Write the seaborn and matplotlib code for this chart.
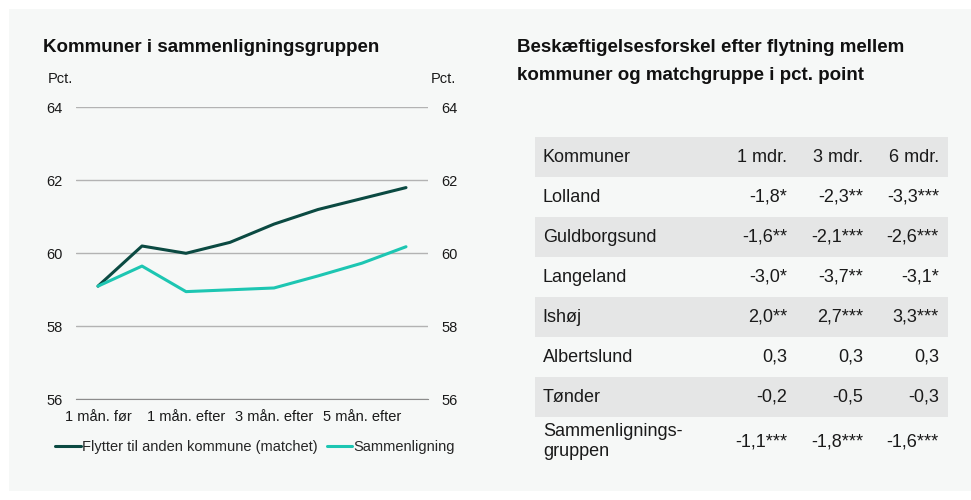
import pandas as pd
import matplotlib.pyplot as plt
import seaborn as sns
from matplotlib.patches import Rectangle

# data
perioder = ['1 mån. før', 'Flytning', '1 mån. efter', '2 mån. efter',
            '3 mån. efter', '4 mån. efter', '5 mån. efter', '6 mån. efter']
vis_labels = ['1 mån. før', '', '1 mån. efter', '', '3 mån. efter', '', '5 mån. efter', '']
flytter = [59.1, 60.2, 60.0, 60.3, 60.8, 61.2, 61.5, 61.8]
sammenligning = [59.1, 59.65, 58.95, 59.0, 59.05, 59.38, 59.73, 60.18]
serie_navne = ['Flytter til anden kommune (matchet)', 'Sammenligning']

tab_kolonner = ['Kommuner', '1 mdr.', '3 mdr.', '6 mdr.']
kommuner = ['Lolland', 'Guldborgsund', 'Langeland', 'Ishøj', 'Albertslund',
            'Tønder', 'Sammenlignings-\ngruppen']
mdr1 = ['-1,8*', '-1,6**', '-3,0*', '2,0**', '0,3', '-0,2', '-1,1***']
mdr3 = ['-2,3**', '-2,1***', '-3,7**', '2,7***', '0,3', '-0,5', '-1,8***']
mdr6 = ['-3,3***', '-2,6***', '-3,1*', '3,3***', '0,3', '-0,3', '-1,6***']

sns.set_style('white')
plt.rcParams['font.family'] = ['Liberation Sans', 'DejaVu Sans']

W, H = 971, 500
fig = plt.figure(figsize=(9.71, 5), dpi=100)
fig.patch.set_facecolor('white')
fig.patches.append(Rectangle((9 / W, 1 - 491 / H), 1, 482 / H, transform=fig.transFigure,
                             facecolor='#f6f8f7', edgecolor='none', zorder=-10))

def fx(px):
    return px / W

def fy(py):
    return 1 - py / H

# line chart
ax = fig.add_axes([fx(76), fy(399.3), fx(428 - 76), (399.3 - 107.3) / H])
ax.set_facecolor('none')
df = pd.DataFrame({'x': list(range(len(perioder))) * 2,
                   'værdi': flytter + sammenligning,
                   'serie': [serie_navne[0]] * len(perioder) + [serie_navne[1]] * len(perioder)})
sns.lineplot(data=df, x='x', y='værdi', hue='serie', palette=['#0b4a42', '#1dc6b2'],
             linewidth=2.2, ax=ax, legend=False)
ax.set_xlim(-0.5, len(perioder) - 0.5)
ax.set_ylim(56, 64)
ax.set_yticks([56, 58, 60, 62, 64])
ax.grid(axis='y', color='#b3b3b3', linewidth=1)
ax.set_axisbelow(True)
for s in ['top', 'left', 'right']:
    ax.spines[s].set_visible(False)
ax.spines['bottom'].set_color('#8c8c8c')
ax.set_xticks(range(len(perioder)))
ax.set_xticklabels(vis_labels, fontsize=10.5, color='#1a1a1a')
ax.set_xticks([i - 0.5 for i in range(len(perioder) + 1)], minor=True)
ax.tick_params(axis='x', which='major', length=0, pad=8)
ax.tick_params(axis='x', which='minor', length=4, width=1, color='#8c8c8c', direction='out')
ax.tick_params(axis='y', length=0, pad=9.4, labelsize=10.5, labelcolor='#1a1a1a',
               labelleft=True, labelright=True)
ax.set_xlabel('')
ax.set_ylabel('')

fig.text(fx(43), fy(48), 'Kommuner i sammenligningsgruppen', fontsize=13.5, fontweight='bold',
         va='center', ha='left', color='#111111')
fig.text(fx(48), fy(79), 'Pct.', fontsize=10.5, va='center', ha='left', color='#1a1a1a')
fig.text(fx(431), fy(79), 'Pct.', fontsize=10.5, va='center', ha='left', color='#1a1a1a')

handles = [plt.Line2D([], [], color=c, linewidth=2.2) for c in ['#0b4a42', '#1dc6b2']]
fig.legend(handles, serie_navne, loc='center left', bbox_to_anchor=(fx(55), fy(447)),
           ncol=2, frameon=False, fontsize=10.5, handlelength=1.75, handletextpad=0.08,
           columnspacing=0.65, borderaxespad=0, borderpad=0)

# table
fig.text(fx(517), fy(47), 'Beskæftigelsesforskel efter flytning mellem', fontsize=13.5,
         fontweight='bold', va='center', ha='left', color='#111111')
fig.text(fx(517), fy(75), 'kommuner og matchgruppe i pct. point', fontsize=13.5,
         fontweight='bold', va='center', ha='left', color='#111111')

tax = fig.add_axes([fx(535), fy(457), fx(948 - 535), (457 - 137) / H])
tax.set_xlim(0, 1)
tax.set_ylim(len(kommuner) + 1, 0)
tax.axis('off')
for r in range(0, len(kommuner) + 1, 2):
    if r < len(kommuner):
        tax.axhspan(r, r + 1, color='#e5e6e6', linewidth=0)
col_x = [0.019, 0.61, 0.794, 0.978]
rows = [tab_kolonner] + [[k, a, b, c] for k, a, b, c in zip(kommuner, mdr1, mdr3, mdr6)]
for r, row in enumerate(rows):
    yc = r + 0.5 if r < len(rows) - 1 else r + 0.62
    for c, val in enumerate(row):
        tax.text(col_x[c], yc, val, fontsize=13, va='center', ha='left' if c == 0 else 'right',
                 color='#1a1a1a', linespacing=1.25)

fig.savefig('out.png', dpi=100)
